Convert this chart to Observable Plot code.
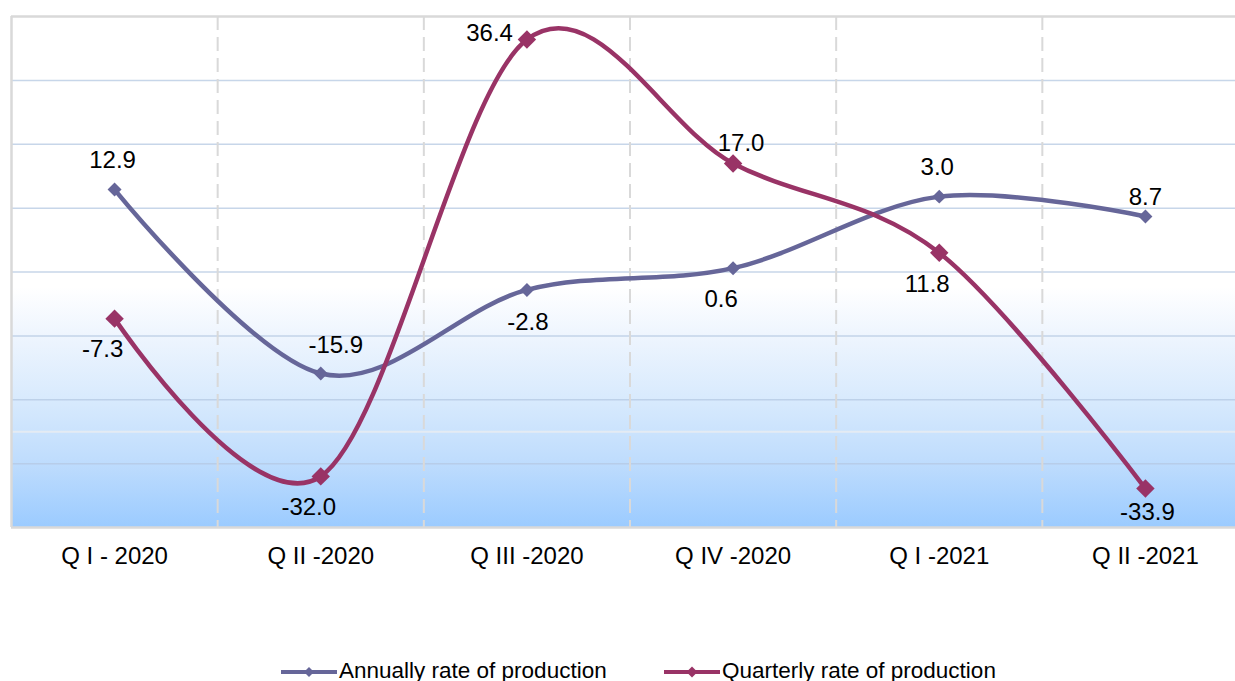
<!DOCTYPE html>
<html><head><meta charset="utf-8">
<script src="https://cdn.jsdelivr.net/npm/d3@7"></script>
<script src="https://cdn.jsdelivr.net/npm/@observablehq/plot@0.6"></script>
<style>
html,body{margin:0;padding:0;background:#fff;overflow:hidden;width:1235px;height:681px;}
body{font-family:"Liberation Sans",Arial,sans-serif;}
#chart{width:1235px;height:640px;overflow:hidden;}
#chart svg{max-width:none !important;}
#legend{position:relative;width:1235px;height:41px;}
#legend .item{position:absolute;top:0;height:41px;}
#legend svg{position:absolute;top:20px;left:0;}
#legend span{position:absolute;top:20px;font-size:22.5px;line-height:22px;white-space:nowrap;color:#000;}
</style></head><body>
<div id="chart"></div>
<div id="legend"></div>
<script>
// ---- data ----
const quarters = ["Q I - 2020", "Q II -2020", "Q III -2020", "Q IV -2020", "Q I -2021", "Q II -2021"];
const seriesNames = ["Annually rate of production", "Quarterly rate of production"];
const annualValues = [12.9, -15.9, -2.8, 0.6, 11.8, 8.7];
const quarterlyValues = [-7.3, -32.0, 36.4, 17.0, 3.0, -33.9];
const annualLabels = ["12.9", "-15.9", "-2.8", "0.6", "3.0", "8.7"];
const quarterlyLabels = ["-7.3", "-32.0", "36.4", "17.0", "11.8", "-33.9"];
const annualPlacement = ["above", "above-right", "below", "below-left", "above", "above-close"];
const quarterlyPlacement = ["below-left", "below-left", "left", "above-right-close", "below-left", "below-close"];
const yGridValues = [-30, -20, -10, 0, 10, 20, 30];
const yDomain = [-40, 40];

// ---- styles ----
const annualColor = "#666699";
const quarterlyColor = "#993366";
const labelSize = 24;
const offsets = {
  "above": {dx: -2, dy: -29},
  "above-close": {dx: 0, dy: -19},
  "above-right": {dx: 15, dy: -28},
  "above-right-close": {dx: 8, dy: -20},
  "below": {dx: 1, dy: 32},
  "below-close": {dx: 2, dy: 24},
  "below-left": {dx: -12, dy: 31},
  "left": {dx: -14, dy: -6, textAnchor: "end"}
};

const annual = annualValues.map((v, i) => ({i, v, label: annualLabels[i], place: annualPlacement[i]}));
const quarterly = quarterlyValues.map((v, i) => ({i, v, label: quarterlyLabels[i], place: quarterlyPlacement[i]}));

function labelMarks(data) {
  const groups = d3.group(data, d => d.place);
  return Array.from(groups, ([place, rows]) => {
    const o = offsets[place];
    return Plot.text(rows, {x: "i", y: "v", text: "label", dx: o.dx, dy: o.dy,
      textAnchor: o.textAnchor || "middle", fill: "#000", fontSize: labelSize});
  });
}

const boundaries = d3.range(1, quarters.length).map(i => i - 0.5);

const plot = Plot.plot({
  width: 1248,
  height: 640,
  marginLeft: 11,
  marginRight: 0,
  marginTop: 16,
  marginBottom: 113,
  style: {fontFamily: "'Liberation Sans', Arial, sans-serif", fontSize: "24px", background: "white", overflow: "visible", maxWidth: "none"},
  x: {domain: [-0.5, quarters.length - 0.5], axis: null},
  y: {domain: yDomain, axis: null},
  marks: [
    Plot.frame({fill: "url(#plotBg)", stroke: "none"}),
    Plot.ruleY(yGridValues, {stroke: "#b4c8e2", strokeOpacity: 0.75, strokeWidth: 1.5}),
    Plot.ruleY([-25], {stroke: "#e4ebf3", strokeWidth: 2}),
    Plot.ruleY(yDomain, {stroke: "#d9d9d9", strokeWidth: 2.5}),
    Plot.ruleX([-0.5], {stroke: "#d9d9d9", strokeWidth: 2.5}),
    Plot.ruleX(boundaries, {stroke: "#d9d9d9", strokeWidth: 2, strokeDasharray: "14,7"}),
    Plot.text(quarters, {x: (d, i) => i, frameAnchor: "bottom", dy: 36, text: d => d, fill: "#000", fontSize: labelSize}),
    Plot.line(annual, {x: "i", y: "v", stroke: annualColor, strokeWidth: 4.5, curve: "cardinal", tension: 0}),
    Plot.dot(annual, {x: "i", y: "v", symbol: "diamond2", r: 6.3, fill: annualColor, stroke: "none"}),
    Plot.line(quarterly, {x: "i", y: "v", stroke: quarterlyColor, strokeWidth: 4.5, curve: "cardinal", tension: 0}),
    Plot.dot(quarterly, {x: "i", y: "v", symbol: "diamond2", r: 8.3, fill: quarterlyColor, stroke: "none"}),
    ...labelMarks(annual),
    ...labelMarks(quarterly)
  ]
});

const svgEl = plot.tagName.toLowerCase() === "svg" ? plot : plot.querySelector("svg");
svgEl.style.maxWidth = "none";
const svg = d3.select(svgEl);
const grad = svg.insert("defs", ":first-child").append("linearGradient")
  .attr("id", "plotBg").attr("x1", 0).attr("y1", 0).attr("x2", 0).attr("y2", 1);
[[0, "#ffffff"], [0.53, "#ffffff"], [0.625, "#eef5fe"], [0.75, "#d8eafd"], [0.875, "#bedcfd"], [1, "#9bcbff"]]
  .forEach(([o, c]) => grad.append("stop").attr("offset", o).attr("stop-color", c));

document.getElementById("chart").appendChild(plot);

// ---- legend ----
const legend = d3.select("#legend");
const legendItems = [
  {name: seriesNames[0], color: annualColor, left: 281, size: 5},
  {name: seriesNames[1], color: quarterlyColor, left: 664, size: 5.5}
];
legendItems.forEach(it => {
  const item = legend.append("div").attr("class", "item").style("left", it.left + "px");
  const s = item.append("svg").attr("width", 56).attr("height", 24);
  s.append("line").attr("x1", 0).attr("x2", 56).attr("y1", 12).attr("y2", 12)
    .attr("stroke", it.color).attr("stroke-width", 4);
  s.append("path").attr("d", `M28,${12 - it.size}L${28 + it.size},12L28,${12 + it.size}L${28 - it.size},12Z`)
    .attr("fill", it.color);
  item.append("span").style("left", "58px").text(it.name);
});
</script>
</body></html>
